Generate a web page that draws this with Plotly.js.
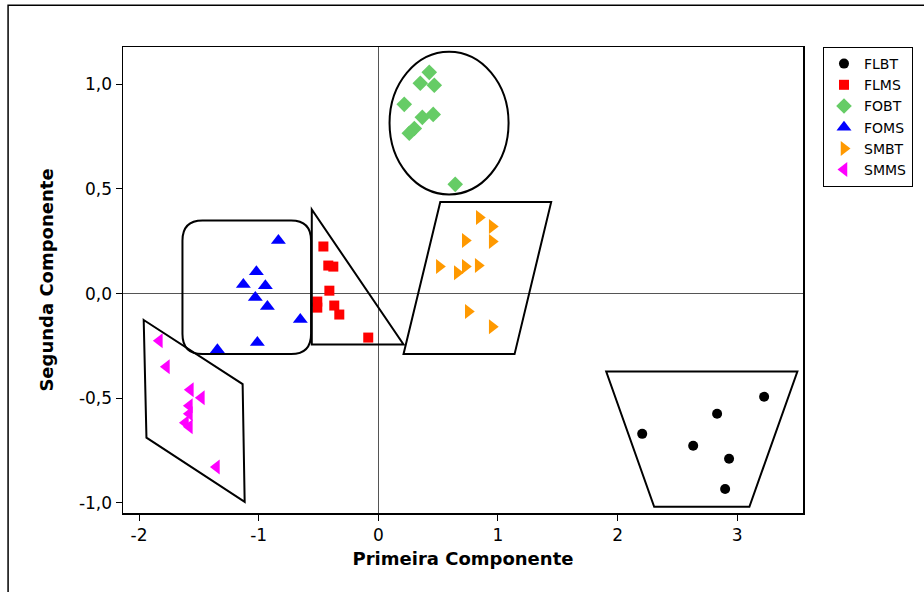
<!DOCTYPE html>
<html>
<head>
<meta charset="utf-8">
<script src="https://cdn.plot.ly/plotly-3.0.1.min.js"></script>
<style>
html,body{margin:0;padding:0;background:#fff;}
#chart{width:924px;height:592px;}
</style>
</head>
<body>
<div id="chart"></div>
<script>
// Series names
var seriesNames = ["FLBT", "FLMS", "FOBT", "FOMS", "SMBT", "SMMS"];

// FLBT (black circles)
var flbtX = [3.225, 2.832, 2.206, 2.632, 2.932, 2.899];
var flbtY = [-0.493, -0.574, -0.670, -0.727, -0.789, -0.933];

// FLMS (red squares)
var flmsX = [-0.459, -0.418, -0.376, -0.409, -0.510, -0.510, -0.368, -0.326, -0.084];
var flmsY = [0.225, 0.134, 0.129, 0.014, -0.038, -0.067, -0.057, -0.100, -0.210];

// FOBT (green diamonds)
var fobtX = [0.426, 0.351, 0.468, 0.217, 0.368, 0.459, 0.301, 0.259, 0.643];
var fobtY = [1.057, 1.005, 0.995, 0.904, 0.842, 0.856, 0.789, 0.766, 0.522];

// FOMS (blue triangles up)
var fomsX = [-0.835, -1.019, -1.128, -0.944, -1.028, -0.927, -0.652, -1.011, -1.345];
var fomsY = [0.254, 0.105, 0.043, 0.038, -0.019, -0.062, -0.124, -0.234, -0.268];

// SMBT (orange triangles right)
var smbtX = [0.844, 0.952, 0.727, 0.952, 0.510, 0.660, 0.727, 0.835, 0.752, 0.952];
var smbtY = [0.364, 0.321, 0.254, 0.249, 0.129, 0.100, 0.129, 0.134, -0.086, -0.158];

// SMMS (magenta triangles left)
var smmsX = [-1.830, -1.771, -1.571, -1.479, -1.579, -1.579, -1.612, -1.579, -1.353];
var smmsY = [-0.225, -0.349, -0.459, -0.498, -0.536, -0.574, -0.617, -0.636, -0.828];

// Axis ticks
var xTickVals = [-2, -1, 0, 1, 2, 3];
var yTickVals = [-1.0, -0.5, 0.0, 0.5, 1.0];
var yTickText = ["-1,0", "-0,5", "0,0", "0,5", "1,0"];

var FONT = "DejaVu Sans, Verdana, sans-serif";

function tr(name, xs, ys, symbol, color, size) {
  return {
    type: "scatter", mode: "markers", name: name, x: xs, y: ys,
    marker: {symbol: symbol, color: color, size: size, line: {width: 0}},
    cliponaxis: false
  };
}

var data = [
  tr(seriesNames[0], flbtX, flbtY, "circle", "#000000", 10),
  tr(seriesNames[1], flmsX, flmsY, "square", "#FF0000", 10),
  tr(seriesNames[2], fobtX, fobtY, "diamond", "#66CC66", 12),
  tr(seriesNames[3], fomsX, fomsY, "triangle-up", "#0000FF", 13),
  tr(seriesNames[4], smbtX, smbtY, "triangle-right", "#FF9900", 13),
  tr(seriesNames[5], smmsX, smmsY, "triangle-left", "#FF00FF", 13)
];

var lineStyle = {color: "#000000", width: 2};
var rx = 0.167, ry = 0.096;
var L = -1.637, R = -0.562, T = 0.349, B = -0.289;
var roundRect = "M " + (L + rx) + "," + T +
  " L " + (R - rx) + "," + T +
  " Q " + R + "," + T + " " + R + "," + (T - ry) +
  " L " + R + "," + (B + ry) +
  " Q " + R + "," + B + " " + (R - rx) + "," + B +
  " L " + (L + rx) + "," + B +
  " Q " + L + "," + B + " " + L + "," + (B + ry) +
  " L " + L + "," + (T - ry) +
  " Q " + L + "," + T + " " + (L + rx) + "," + T + " Z";

var shapes = [
  // outer frame
  {type: "rect", xref: "paper", yref: "paper", x0: -0.169, x1: 1.5, y0: -0.5, y1: 1.0896,
   line: {color: "#000000", width: 1.5}, layer: "below"},
  // FOBT ellipse
  {type: "circle", xref: "x", yref: "y", x0: 0.094, x1: 1.089, y0: 0.474, y1: 1.155, line: lineStyle},
  // FOMS rounded rectangle
  {type: "path", xref: "x", yref: "y", path: roundRect, line: lineStyle},
  // FLMS triangle
  {type: "path", xref: "x", yref: "y", path: "M -0.556,0.402 L -0.556,-0.243 L 0.211,-0.243 Z", line: lineStyle},
  // SMBT parallelogram
  {type: "path", xref: "x", yref: "y", path: "M 0.518,0.437 L 1.445,0.437 L 1.139,-0.289 L 0.211,-0.289 Z", line: lineStyle},
  // SMMS parallelogram
  {type: "path", xref: "x", yref: "y", path: "M -1.961,-0.126 L -1.134,-0.432 L -1.117,-0.995 L -1.938,-0.688 Z", line: lineStyle},
  // FLBT trapezoid
  {type: "path", xref: "x", yref: "y", path: "M 1.905,-0.372 L 3.503,-0.372 L 3.102,-1.018 L 2.306,-1.018 Z", line: lineStyle}
];

var layout = {
  width: 924, height: 592,
  margin: {l: 123, r: 121, t: 47, b: 79, pad: 0, autoexpand: false},
  paper_bgcolor: "#ffffff", plot_bgcolor: "#ffffff",
  separators: ", ",
  font: {family: FONT, color: "#000000", size: 14},
  showlegend: true,
  legend: {
    x: 1.0294, xanchor: "left", y: 1.0, yanchor: "top",
    bordercolor: "#000000", borderwidth: 1, bgcolor: "#ffffff",
    font: {family: FONT, size: 14, color: "#000000"},
    itemwidth: 30
  },
  xaxis: {
    range: [-2.134, 3.550], tickvals: xTickVals, ticktext: xTickVals.map(String),
    ticks: "outside", ticklen: 6, tickwidth: 1, tickcolor: "#000000",
    showline: true, linecolor: "#000000", linewidth: 1.5, mirror: true,
    showgrid: false, zeroline: true, zerolinecolor: "#555555", zerolinewidth: 1,
    tickfont: {family: FONT, size: 17},
    title: {text: "Primeira Componente", font: {family: FONT, size: 18, weight: "bold"}, standoff: 8}
  },
  yaxis: {
    range: [-1.048, 1.178], tickvals: yTickVals, ticktext: yTickText,
    ticks: "outside", ticklen: 6, tickwidth: 1, tickcolor: "#000000",
    showline: true, linecolor: "#000000", linewidth: 1.5, mirror: true,
    showgrid: false, zeroline: true, zerolinecolor: "#555555", zerolinewidth: 1,
    tickfont: {family: FONT, size: 17},
    title: {text: "Segunda Componente", font: {family: FONT, size: 18, weight: "bold"}, standoff: 20}
  },
  shapes: shapes
};

Plotly.newPlot("chart", data, layout, {displayModeBar: false, staticPlot: true});
</script>
</body>
</html>
